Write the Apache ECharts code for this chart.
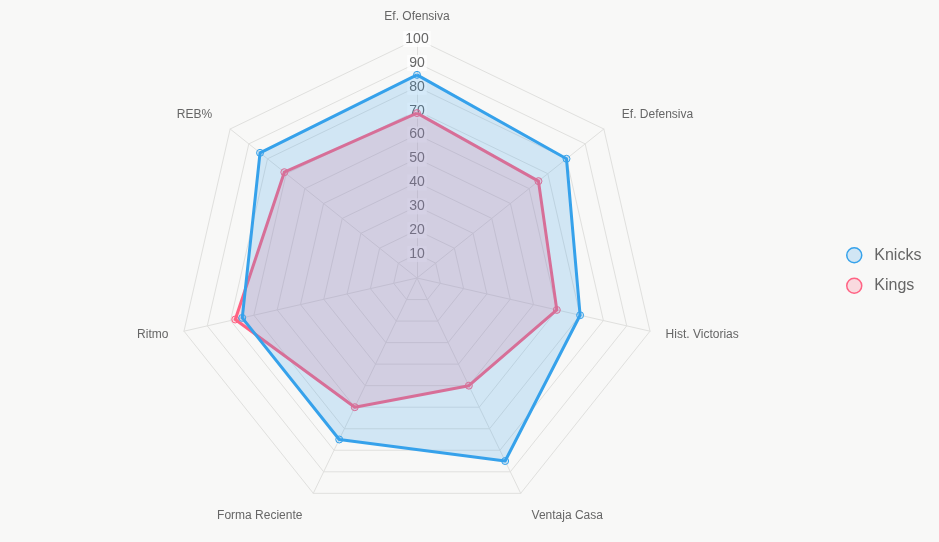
<!DOCTYPE html>
<html>
<head>
<meta charset="utf-8">
<script src="https://cdn.jsdelivr.net/npm/echarts@6/dist/echarts.min.js"></script>
<style>
  html, body { margin: 0; padding: 0; background: #f8f8f7; }
  #chart { width: 939px; height: 542px; }
</style>
</head>
<body>
<div id="chart"></div>
<script>
// ejes del radar (sentido horario desde arriba)
const indicators = ["Ef. Ofensiva", "Ef. Defensiva", "Hist. Victorias", "Ventaja Casa", "Forma Reciente", "Ritmo", "REB%"];
const knicks = [85, 80, 70, 85, 75, 75, 84];
const kings = [69, 65, 60, 50, 60, 78, 71];
const maxValue = 100;

// echarts dibuja los ejes en sentido antihorario, así que se invierte el orden
const order = [0, 6, 5, 4, 3, 2, 1];
const pick = arr => order.map(i => arr[i]);

const font = "Liberation Sans, Arial, sans-serif";
const chart = echarts.init(document.getElementById("chart"));

const option = {
  backgroundColor: "#f8f8f7",
  legend: {
    orient: "vertical",
    left: 841,
    top: 242,
    itemGap: 14,
    itemWidth: 30,
    itemHeight: 15,
    icon: "circle",
    textStyle: { color: "#666", fontSize: 16, fontFamily: font },
    data: [
      { name: "Knicks", itemStyle: { color: "rgba(54,162,235,0.2)", borderColor: "#36A2EB", borderWidth: 1.5 } },
      { name: "Kings", itemStyle: { color: "rgba(255,99,132,0.2)", borderColor: "#FF6384", borderWidth: 1.5 } }
    ]
  },
  radar: {
    center: [417, 278],
    radius: 239,
    startAngle: 90,
    shape: "polygon",
    splitNumber: 10,
    nameGap: 16,
    axisName: { color: "#666", fontSize: 12, fontFamily: font },
    splitLine: { lineStyle: { color: "#e0e0de", width: 1 } },
    axisLine: { lineStyle: { color: "#e0e0de", width: 1 } },
    splitArea: { show: false },
    axisLabel: { show: false },
    indicator: pick(indicators).map((name, i) => {
      const ind = { name: name, min: 0, max: maxValue };
      if (name === "Ventaja Casa" || name === "Forma Reciente") ind.nameGap = 25;
      if (name === "Ef. Defensiva" || name === "REB%") ind.nameGap = 23;
      if (i === 0) {
        // etiquetas de escala solo en el eje superior
        ind.axisLabel = {
          show: true,
          showMinLabel: false,
          color: "#666",
          fontSize: 14,
          fontFamily: font,
          align: "center",
          verticalAlign: "middle",
          margin: 0,
          backgroundColor: "rgba(255,255,255,0.75)",
          padding: [1, 2]
        };
      }
      return ind;
    })
  },
  series: [
    {
      type: "radar",
      z: 2,
      symbol: "circle",
      symbolSize: 7,
      data: [
        {
          name: "Kings",
          value: pick(kings),
          lineStyle: { color: "#FF6384", width: 3 },
          areaStyle: { color: "rgba(255,99,132,0.2)", opacity: 1 },
          itemStyle: { color: "rgba(255,99,132,0.2)", borderColor: "#FF6384", borderWidth: 1 }
        }
      ]
    },
    {
      type: "radar",
      z: 3,
      symbol: "circle",
      symbolSize: 7,
      data: [
        {
          name: "Knicks",
          value: pick(knicks),
          lineStyle: { color: "#36A2EB", width: 3 },
          areaStyle: { color: "rgba(54,162,235,0.2)", opacity: 1 },
          itemStyle: { color: "rgba(54,162,235,0.2)", borderColor: "#36A2EB", borderWidth: 1 }
        }
      ]
    }
  ]
};

chart.setOption(option);
</script>
</body>
</html>
